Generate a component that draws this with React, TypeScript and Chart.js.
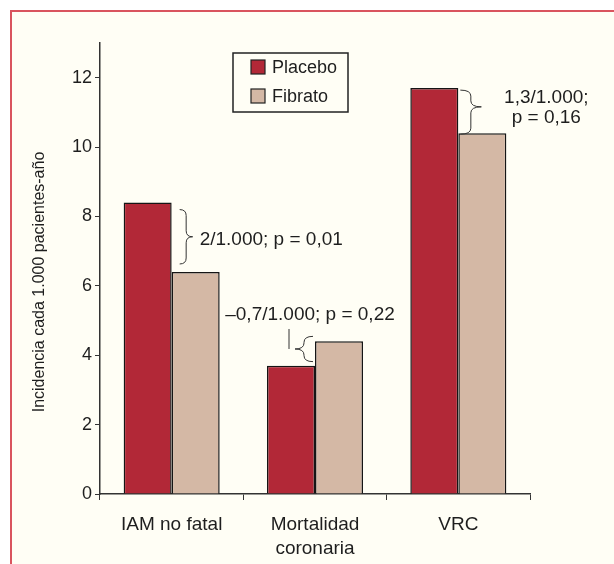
import React, { useEffect, useRef } from "react";
import { Chart, registerables } from "chart.js";

Chart.register(...registerables);

const categories: (string | string[])[] = ["IAM no fatal", ["Mortalidad", "coronaria"], "VRC"];
const placeboValues = [8.4, 3.7, 11.7];
const fibratoValues = [6.4, 4.4, 10.4];
const seriesNames = ["Placebo", "Fibrato"];
const yTickValues = [0, 2, 4, 6, 8, 10, 12];
const yAxisTitle = "Incidencia cada 1.000 pacientes-año";
const annotationTexts: string[][] = [
  ["2/1.000; p = 0,01"],
  ["–0,7/1.000; p = 0,22"],
  ["1,3/1.000;", "p = 0,16"],
];

const FONT = "'Liberation Sans', Arial, Helvetica, sans-serif";
const TEXT = "#1e1e1e";
const RED = "#b22837";
const TAN = "#d4b8a5";
const BG = "#fffef5";

function brace(
  ctx: CanvasRenderingContext2D,
  x0: number,
  x1: number,
  y0: number,
  y1: number,
  tipFrac: number
) {
  const xm = (x0 + x1) / 2;
  const ym = y0 + (y1 - y0) * tipFrac;
  const r = Math.min(6, (y1 - y0) / 4);
  ctx.beginPath();
  ctx.moveTo(x0, y0);
  ctx.quadraticCurveTo(xm, y0, xm, y0 + r);
  ctx.lineTo(xm, ym - r);
  ctx.quadraticCurveTo(xm, ym, x1, ym);
  ctx.quadraticCurveTo(xm, ym, xm, ym + r);
  ctx.lineTo(xm, y1 - r);
  ctx.quadraticCurveTo(xm, y1, x0, y1);
  ctx.stroke();
}

const overlayPlugin = {
  id: "overlay",
  afterDraw(chart: any) {
    const ctx: CanvasRenderingContext2D = chart.ctx;
    const area = chart.chartArea;
    const m0 = chart.getDatasetMeta(0).data;
    const m1 = chart.getDatasetMeta(1).data;
    ctx.save();

    // y axis title
    ctx.save();
    ctx.translate(28, 270);
    ctx.rotate(-Math.PI / 2);
    ctx.font = `16px ${FONT}`;
    ctx.fillStyle = TEXT;
    ctx.textAlign = "center";
    ctx.textBaseline = "middle";
    ctx.fillText(yAxisTitle, 0, 0);
    ctx.restore();

    ctx.strokeStyle = "#333";
    ctx.lineWidth = 1;
    ctx.fillStyle = TEXT;
    ctx.font = `19px ${FONT}`;
    ctx.textBaseline = "middle";

    // IAM no fatal
    {
      const p = m0[0], f = m1[0];
      const right = p.x + p.width / 2;
      const x0 = right + 8, x1 = right + 21;
      const y0 = p.y + 7, y1 = f.y - 8;
      brace(ctx, x0, x1, y0, y1, 0.5);
      ctx.textAlign = "left";
      ctx.fillText(annotationTexts[0][0], x1 + 7, (y0 + y1) / 2 + 3);
    }
    // Mortalidad coronaria
    {
      const p = m0[1], f = m1[1];
      const right = p.x + p.width / 2;
      const x0 = right - 2, x1 = right - 20;
      const y0 = f.y - 5, y1 = p.y - 4;
      brace(ctx, x0, x1, y0, y1, 0.5);
      const ym = (y0 + y1) / 2;
      ctx.beginPath();
      ctx.moveTo(x1 - 6, ym - 20);
      ctx.lineTo(x1 - 6, ym);
      ctx.stroke();
      ctx.textAlign = "center";
      ctx.fillText(annotationTexts[1][0], right - 5, f.y - 27);
    }
    // VRC
    {
      const p = m0[2], f = m1[2];
      const right = p.x + p.width / 2;
      const x0 = right + 2, x1 = right + 23;
      const y0 = p.y + 2, y1 = f.y + 1;
      brace(ctx, x0, x1, y0, y1, 0.38);
      const ym = y0 + (y1 - y0) * 0.38;
      ctx.textAlign = "center";
      ctx.fillText(annotationTexts[2][0], right + 88, ym - 9);
      ctx.fillText(annotationTexts[2][1], right + 88, ym + 11);
    }

    // legend
    const lx = area.left + 133, ly = area.top + 10, lw = 115, lh = 59;
    ctx.fillStyle = BG;
    ctx.fillRect(lx, ly, lw, lh);
    ctx.strokeStyle = "#222";
    ctx.lineWidth = 1.5;
    ctx.strokeRect(lx, ly, lw, lh);
    const colors = [RED, TAN];
    seriesNames.forEach((name, i) => {
      const cy = ly + 14 + i * 29;
      ctx.fillStyle = colors[i];
      ctx.fillRect(lx + 18, cy - 7, 14, 14);
      ctx.strokeStyle = "#222";
      ctx.lineWidth = 1.2;
      ctx.strokeRect(lx + 18, cy - 7, 14, 14);
      ctx.fillStyle = TEXT;
      ctx.font = `18px ${FONT}`;
      ctx.textAlign = "left";
      ctx.textBaseline = "middle";
      ctx.fillText(name, lx + 39, cy + 1);
    });

    ctx.restore();
  },
};

export default function App() {
  const ref = useRef<HTMLCanvasElement | null>(null);
  useEffect(() => {
    if (!ref.current) return;
    const chart = new Chart(ref.current, {
      type: "bar",
      data: {
        labels: categories as any,
        datasets: [
          {
            label: seriesNames[0],
            data: placeboValues,
            backgroundColor: RED,
            borderColor: "#151515",
            borderWidth: 1.5,
            categoryPercentage: 0.67,
            barPercentage: 1,
          },
          {
            label: seriesNames[1],
            data: fibratoValues,
            backgroundColor: TAN,
            borderColor: "#151515",
            borderWidth: 1.5,
            categoryPercentage: 0.67,
            barPercentage: 1,
          },
        ],
      },
      options: {
        responsive: false,
        animation: false,
        devicePixelRatio: 1,
        layout: { padding: { top: 31, right: 84, left: 0, bottom: 0 } },
        plugins: {
          legend: { display: false },
          tooltip: { enabled: false },
        },
        scales: {
          x: {
            grid: {
              offset: true,
              drawOnChartArea: false,
              tickLength: 6,
              color: "#333",
              lineWidth: 1,
            },
            border: { color: "#333", width: 1.5 },
            ticks: {
              font: { family: FONT, size: 19, lineHeight: 1.25 },
              color: TEXT,
              padding: 13,
              maxRotation: 0,
            },
            afterFit(scale: any) {
              scale.height = 70;
            },
          },
          y: {
            min: 0,
            max: 13,
            grid: {
              drawOnChartArea: false,
              tickLength: 5,
              color: "#333",
              lineWidth: 1,
            },
            border: { color: "#333", width: 1.5 },
            ticks: {
              font: { family: FONT, size: 18 },
              color: TEXT,
              padding: 3,
            },
            afterBuildTicks(scale: any) {
              scale.ticks = yTickValues.map((v) => ({ value: v }));
            },
            afterFit(scale: any) {
              scale.width = 88;
            },
          },
        },
      } as any,
      plugins: [overlayPlugin],
    });
    return () => chart.destroy();
  }, []);

  return (
    <div
      style={{
        position: "fixed",
        left: 10,
        top: 10,
        width: 604,
        height: 554,
        borderTop: "2px solid #d9545e",
        borderLeft: "2px solid #d9545e",
        background: BG,
      }}
    >
      <canvas ref={ref} width={602} height={552} style={{ display: "block" }} />
    </div>
  );
}
